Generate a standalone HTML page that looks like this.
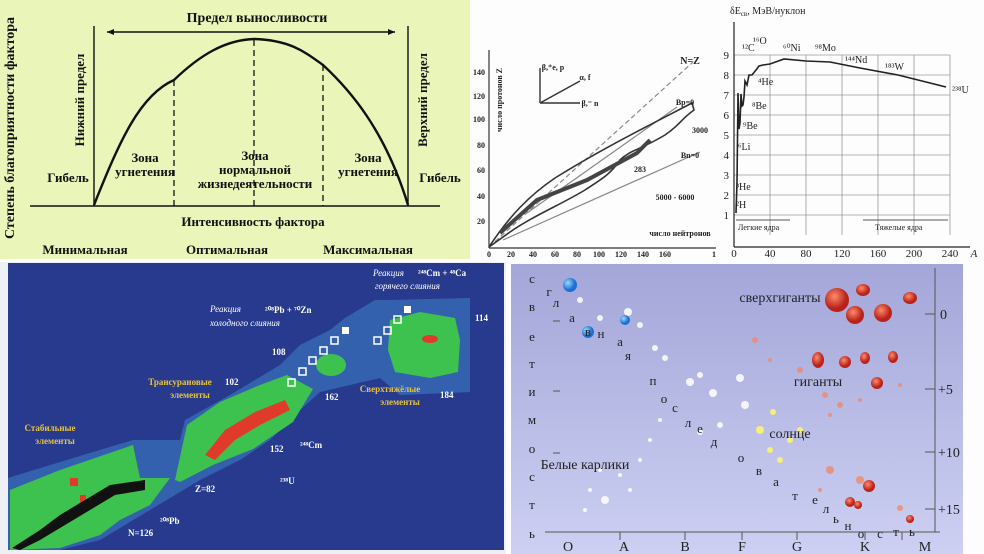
<!DOCTYPE html>
<html><head><meta charset="utf-8"><style>
html,body{margin:0;padding:0;background:#fff;}
svg{display:block;font-family:"Liberation Serif","Noto Serif CJK SC",serif;}
</style></head><body>
<svg width="984" height="554" viewBox="0 0 984 554" xmlns="http://www.w3.org/2000/svg">
<rect width="984" height="554" fill="#fdfdfd"/>
<!-- TOP LEFT -->
<rect x="0" y="0" width="470" height="259" fill="#e9f5b9"/>
<g stroke="#111" fill="none" stroke-width="2">
<line x1="30" y1="206" x2="440" y2="206" stroke-width="1.6"/>
<line x1="94" y1="26" x2="94" y2="206" stroke-width="1.4"/>
<line x1="408" y1="26" x2="408" y2="206" stroke-width="1.4"/>
<line x1="107" y1="32" x2="395" y2="32" stroke-width="1.6"/>
<path d="M94,205 C120,140 140,95 174,80 C200,55 225,40 254,39 C290,40 305,52 323,65 C350,90 385,130 408,205" stroke-width="2.4"/>
<g stroke-dasharray="6,4" stroke-width="1.3"><line x1="174" y1="80" x2="174" y2="206"/><line x1="254" y1="40" x2="254" y2="206"/><line x1="323" y1="65" x2="323" y2="206"/></g>
</g>
<path d="M107,32 l7,-3 v6z M395,32 l-7,-3 v6z" fill="#111"/>
<g fill="#111" font-size="13" text-anchor="middle" font-weight="bold">
<text x="257" y="22" font-size="14">Предел выносливости</text>
<text x="68" y="182">Гибель</text><text x="440" y="182">Гибель</text>
<text x="145" y="162">Зона</text><text x="145" y="176">угнетения</text>
<text x="255" y="160">Зона</text><text x="255" y="174">нормальной</text><text x="255" y="188">жизнедеятельности</text>
<text x="368" y="162">Зона</text><text x="368" y="176">угнетения</text>
<text x="253" y="226">Интенсивность фактора</text>
<text x="85" y="254">Минимальная</text><text x="227" y="254">Оптимальная</text><text x="368" y="254">Максимальная</text>
<text transform="translate(84,100) rotate(-90)">Нижний предел</text>
<text transform="translate(427,100) rotate(-90)">Верхний предел</text>
<text transform="translate(14,128) rotate(-90)" font-size="14">Степень благоприятности фактора</text>
</g>
<!-- TOP RIGHT LEFT CHART -->
<g stroke="#333" fill="none" stroke-width="1.2">
<line x1="489" y1="50" x2="489" y2="248"/><line x1="489" y1="248" x2="716" y2="248"/>
<line x1="489" y1="247" x2="693" y2="62" stroke-dasharray="5,3" stroke="#888"/>
<line x1="527" y1="213" x2="677" y2="107" stroke="#888"/>
<line x1="503" y1="240" x2="700" y2="152" stroke="#888"/>
<path d="M489,247 C510,215 530,195 555,178 C600,150 640,130 692,103 L694,110 C680,120 680,125 665,135 C640,150 630,150 620,160 C610,175 600,180 585,190 C560,205 535,215 510,232 Z" stroke-width="1.6"/>
<path d="M500,233 L537,200 L587,180 L637,153 L650,140" stroke-width="4" stroke="#444"/>
<path d="M540,103 v-35 M540,103 h40 M540,103 l40,-22" stroke-width="1.4"/>
</g>
<g font-size="8" fill="#222" text-anchor="end" font-weight="bold">
<text x="485" y="75">140</text><text x="485" y="99">120</text><text x="485" y="122">100</text><text x="485" y="148">80</text><text x="485" y="173">60</text><text x="485" y="199">40</text><text x="485" y="224">20</text>
</g>
<g font-size="8" fill="#222" text-anchor="middle" font-weight="bold">
<text x="489" y="257">0</text><text x="511" y="257">20</text><text x="533" y="257">40</text><text x="555" y="257">60</text><text x="577" y="257">80</text><text x="599" y="257">100</text><text x="621" y="257">120</text><text x="643" y="257">140</text><text x="665" y="257">160</text><text x="714" y="257">1</text>
<text x="680" y="236">число нейтронов</text>
<text x="690" y="64" font-size="10">N=Z</text>
<text x="685" y="105">Bp=0</text><text x="690" y="158">Bn=0</text>
<text x="700" y="133">3000</text><text x="640" y="172">283</text><text x="675" y="200">5000 - 6000</text>
<text x="553" y="70">β,⁺e, p</text><text x="585" y="80">α, f</text><text x="590" y="106">β,⁻ n</text>
<text transform="translate(502,100) rotate(-90)">число протонов Z</text>
</g>
<!-- TOP RIGHT RIGHT CHART -->
<g stroke="#999" stroke-width="0.8">
<line x1="734" y1="55" x2="950" y2="55"/><line x1="734" y1="75" x2="950" y2="75"/><line x1="734" y1="95" x2="950" y2="95"/><line x1="734" y1="115" x2="950" y2="115"/><line x1="734" y1="135" x2="950" y2="135"/><line x1="734" y1="155" x2="950" y2="155"/><line x1="734" y1="175" x2="950" y2="175"/><line x1="734" y1="195" x2="950" y2="195"/><line x1="734" y1="215" x2="950" y2="215"/>
<line x1="770" y1="55" x2="770" y2="235"/><line x1="806" y1="55" x2="806" y2="235"/><line x1="842" y1="55" x2="842" y2="235"/><line x1="878" y1="55" x2="878" y2="235"/><line x1="914" y1="55" x2="914" y2="235"/><line x1="950" y1="55" x2="950" y2="235"/>
</g>
<g stroke="#222" fill="none" stroke-width="1.2">
<line x1="734" y1="22" x2="734" y2="247"/><line x1="734" y1="247" x2="970" y2="247"/>
<polyline stroke-width="1.6" points="736,213 737,183 738,93 739,129 740,123 741,94 742,106 743,105 744,97 745,81 747,85 749,75 752,75 756,70 759,66 763,65 770,64 784,59 806,61 830,62 860,68 898,75 946,87"/>
<line x1="736" y1="220" x2="790" y2="220" stroke-width="0.8"/><line x1="863" y1="220" x2="948" y2="220" stroke-width="0.8"/>
</g>
<g font-size="10" fill="#222">
<text x="730" y="14" font-size="10">δE<tspan font-size="7" dy="2">св</tspan><tspan dy="-2">, МэВ/нуклон</tspan></text>
<g text-anchor="end" font-size="11"><text x="729" y="59">9</text><text x="729" y="79">8</text><text x="729" y="99">7</text><text x="729" y="119">6</text><text x="729" y="139">5</text><text x="729" y="159">4</text><text x="729" y="179">3</text><text x="729" y="199">2</text><text x="729" y="219">1</text></g>
<g text-anchor="middle" font-size="11"><text x="734" y="257">0</text><text x="770" y="257">40</text><text x="806" y="257">80</text><text x="842" y="257">120</text><text x="878" y="257">160</text><text x="914" y="257">200</text><text x="950" y="257">240</text><text x="974" y="257" font-style="italic">A</text></g>
<text x="742" y="51">¹²C</text><text x="753" y="44">¹⁶O</text><text x="783" y="51">⁶⁰Ni</text><text x="815" y="51">⁹⁸Mo</text><text x="845" y="63">¹⁴⁴Nd</text><text x="885" y="70">¹⁸³W</text><text x="952" y="93">²³⁸U</text>
<text x="758" y="85">⁴He</text><text x="752" y="109">⁸Be</text><text x="743" y="129">⁹Be</text><text x="738" y="150">⁶Li</text><text x="736" y="190">³He</text><text x="736" y="208">²H</text>
<text x="738" y="230" font-size="8">Легкие ядра</text><text x="875" y="230" font-size="8">Тяжелые ядра</text>
</g>
<!-- BOTTOM LEFT -->
<rect x="0" y="262" width="506" height="292" fill="#eef0f5"/>
<rect x="8" y="263" width="496" height="287" fill="#283a8e"/>
<g fill="#3566b0" opacity="0.9">
<polygon points="8,478 60,462 133,440 140,440 180,440 185,420 230,395 280,365 300,345 330,330 345,318 375,300 390,300 470,298 470,392 400,395 380,378 320,392 300,410 270,440 240,460 200,480 150,510 100,540 60,550 8,550"/>
</g>
<g fill="#3ec24f">
<polygon points="10,490 60,470 133,445 140,478 170,478 150,505 120,520 100,535 60,548 10,550"/>
<polygon points="175,480 187,425 220,402 260,385 287,375 313,389 293,422 253,449 213,465 180,482"/>
<ellipse cx="331" cy="365" rx="15" ry="11"/>
<polygon points="390,320 420,312 455,318 460,340 458,372 430,378 395,372 388,350"/>
</g>
<g fill="#e03a2a">
<polygon points="205,455 225,430 255,412 285,400 290,410 260,425 235,440 215,460"/>
<ellipse cx="430" cy="339" rx="8" ry="4"/>
<rect x="70" y="478" width="8" height="8"/><rect x="80" y="495" width="6" height="10"/>
</g>
<g fill="#111"><polygon points="12,548 40,530 60,515 85,500 110,485 145,480 145,490 115,495 90,510 65,525 40,540 20,550"/></g>
<g fill="none" stroke="#fff" stroke-width="1.5">
<rect x="288" y="379" width="7" height="7"/><rect x="299" y="368" width="7" height="7"/><rect x="309" y="357" width="7" height="7"/><rect x="320" y="347" width="7" height="7"/><rect x="331" y="337" width="7" height="7"/>
<rect x="374" y="337" width="7" height="7"/><rect x="384" y="327" width="7" height="7"/><rect x="394" y="316" width="7" height="7"/>
</g>
<rect x="342" y="327" width="7" height="7" fill="#fff"/><rect x="404" y="306" width="7" height="7" fill="#fff"/>
<g font-size="9" fill="#fff" font-weight="bold">
<text x="272" y="355">108</text><text x="225" y="385">102</text><text x="325" y="400">162</text><text x="440" y="398">184</text><text x="475" y="321">114</text>
<text x="270" y="452">152</text><text x="300" y="448">²⁴⁸Cm</text><text x="280" y="484">²³⁸U</text><text x="195" y="492">Z=82</text><text x="160" y="524">²⁰⁸Pb</text><text x="128" y="536">N=126</text>
<text x="210" y="312" font-style="italic" font-weight="normal">Реакция</text><text x="265" y="313">²⁰⁸Pb + ⁷⁰Zn</text><text x="210" y="326" font-style="italic" font-weight="normal">холодного слияния</text>
<text x="373" y="276" font-style="italic" font-weight="normal">Реакция</text><text x="418" y="276">²⁴⁸Cm + ⁴⁸Ca</text><text x="375" y="289" font-style="italic" font-weight="normal">горячего слияния</text>
</g>
<g font-size="9" fill="#e8c43a" font-weight="bold" text-anchor="middle">
<text x="180" y="385">Трансурановые</text><text x="190" y="398">элементы</text>
<text x="50" y="431">Стабильные</text><text x="55" y="444">элементы</text>
<text x="390" y="392">Сверхтяжёлые</text><text x="400" y="405">элементы</text>
</g>
<!-- BOTTOM RIGHT -->
<defs><linearGradient id="lv" x1="0" y1="0" x2="0" y2="1"><stop offset="0" stop-color="#a3a6d8"/><stop offset="1" stop-color="#cdd0f2"/></linearGradient>
<radialGradient id="bl" cx="0.35" cy="0.35"><stop offset="0" stop-color="#9cd9ff"/><stop offset="1" stop-color="#1a6fd0"/></radialGradient>
<radialGradient id="rd" cx="0.4" cy="0.35"><stop offset="0" stop-color="#ff8a6a"/><stop offset="1" stop-color="#b8221a"/></radialGradient></defs>
<rect x="511" y="264" width="452" height="290" fill="url(#lv)"/>
<g stroke="#555" stroke-width="1"><line x1="935" y1="268" x2="935" y2="532"/><line x1="545" y1="532" x2="940" y2="532"/>
<line x1="620" y1="532" x2="620" y2="540"/><line x1="685" y1="532" x2="685" y2="540"/><line x1="742" y1="532" x2="742" y2="540"/><line x1="797" y1="532" x2="797" y2="540"/><line x1="865" y1="532" x2="865" y2="540"/><line x1="902" y1="532" x2="902" y2="540"/>
<line x1="925" y1="314" x2="935" y2="314"/><line x1="925" y1="389" x2="935" y2="389"/><line x1="925" y1="452" x2="935" y2="452"/><line x1="925" y1="509" x2="935" y2="509"/>
<line x1="553" y1="321" x2="560" y2="321"/><line x1="553" y1="391" x2="560" y2="391"/><line x1="553" y1="453" x2="560" y2="453"/></g>
<g fill="#fff" opacity="0.85">
<circle cx="580" cy="300" r="3"/><circle cx="600" cy="318" r="3"/><circle cx="628" cy="312" r="4"/><circle cx="640" cy="325" r="3"/><circle cx="655" cy="348" r="3"/><circle cx="665" cy="358" r="3"/><circle cx="690" cy="382" r="4"/><circle cx="700" cy="375" r="3"/><circle cx="713" cy="393" r="4"/><circle cx="740" cy="378" r="4"/><circle cx="745" cy="405" r="4"/><circle cx="700" cy="432" r="3"/><circle cx="720" cy="425" r="3"/><circle cx="660" cy="420" r="2"/><circle cx="650" cy="440" r="2"/><circle cx="640" cy="460" r="2"/><circle cx="620" cy="475" r="2"/><circle cx="605" cy="500" r="4"/><circle cx="590" cy="490" r="2"/><circle cx="600" cy="470" r="2"/><circle cx="630" cy="490" r="2"/><circle cx="585" cy="510" r="2"/>
</g>
<g fill="#f5f07a"><circle cx="760" cy="430" r="4"/><circle cx="770" cy="450" r="3"/><circle cx="790" cy="440" r="3"/><circle cx="780" cy="460" r="3"/><circle cx="773" cy="412" r="3"/><circle cx="800" cy="430" r="3"/></g>
<g fill="#f08a6a" opacity="0.8"><circle cx="755" cy="340" r="3"/><circle cx="770" cy="360" r="2"/><circle cx="800" cy="370" r="3"/><circle cx="825" cy="395" r="3"/><circle cx="840" cy="405" r="3"/><circle cx="830" cy="415" r="2"/><circle cx="860" cy="400" r="2"/><circle cx="900" cy="385" r="2"/><circle cx="830" cy="470" r="4"/><circle cx="860" cy="480" r="4"/><circle cx="900" cy="508" r="3"/><circle cx="820" cy="490" r="2"/></g>
<g fill="url(#rd)"><ellipse cx="837" cy="300" rx="12" ry="12"/><ellipse cx="863" cy="290" rx="7" ry="6"/><ellipse cx="855" cy="315" rx="9" ry="9"/><ellipse cx="883" cy="313" rx="9" ry="9"/><ellipse cx="910" cy="298" rx="7" ry="6"/><ellipse cx="818" cy="360" rx="6" ry="8"/><ellipse cx="845" cy="362" rx="6" ry="6"/><ellipse cx="865" cy="358" rx="5" ry="6"/><ellipse cx="893" cy="357" rx="5" ry="6"/><ellipse cx="877" cy="383" rx="6" ry="6"/><ellipse cx="869" cy="486" rx="6" ry="6"/><ellipse cx="850" cy="502" rx="5" ry="5"/><ellipse cx="858" cy="505" rx="4" ry="4"/><ellipse cx="910" cy="519" rx="4" ry="4"/></g>
<g fill="url(#bl)"><circle cx="570" cy="285" r="7"/><circle cx="588" cy="332" r="6"/><circle cx="625" cy="320" r="5"/></g>
<g font-size="13" fill="#222" text-anchor="middle">
<text x="532" y="283">с</text><text x="532" y="311">в</text><text x="532" y="341">е</text><text x="532" y="368">т</text><text x="532" y="396">и</text><text x="532" y="424">м</text><text x="532" y="453">о</text><text x="532" y="481">с</text><text x="532" y="509">т</text><text x="532" y="538">ь</text>
<text x="549" y="296">г</text><text x="556" y="307">л</text><text x="572" y="322">а</text><text x="588" y="336">в</text><text x="601" y="338">н</text><text x="620" y="346">а</text><text x="628" y="360">я</text>
<text x="653" y="385">п</text><text x="664" y="403">о</text><text x="675" y="412">с</text><text x="688" y="427">л</text><text x="700" y="433">е</text><text x="714" y="446">д</text><text x="741" y="462">о</text><text x="759" y="475">в</text><text x="776" y="486">а</text><text x="795" y="500">т</text><text x="815" y="504">е</text><text x="826" y="513">л</text><text x="836" y="523">ь</text><text x="848" y="530">н</text><text x="861" y="538">о</text><text x="880" y="538">с</text><text x="896" y="536">т</text><text x="912" y="536">ь</text>
<text x="780" y="302" font-size="14">сверхгиганты</text><text x="818" y="386" font-size="14">гиганты</text><text x="790" y="438" font-size="14">солнце</text><text x="585" y="469" font-size="14">Белые карлики</text>
<text x="568" y="551" font-size="14">O</text><text x="624" y="551" font-size="14">A</text><text x="685" y="551" font-size="14">B</text><text x="742" y="551" font-size="14">F</text><text x="797" y="551" font-size="14">G</text><text x="865" y="551" font-size="14">K</text><text x="925" y="551" font-size="14">M</text>
</g>
<g font-size="14" fill="#222"><text x="940" y="319">0</text><text x="938" y="394">+5</text><text x="938" y="457">+10</text><text x="938" y="514">+15</text></g>
</svg>
</body></html>
